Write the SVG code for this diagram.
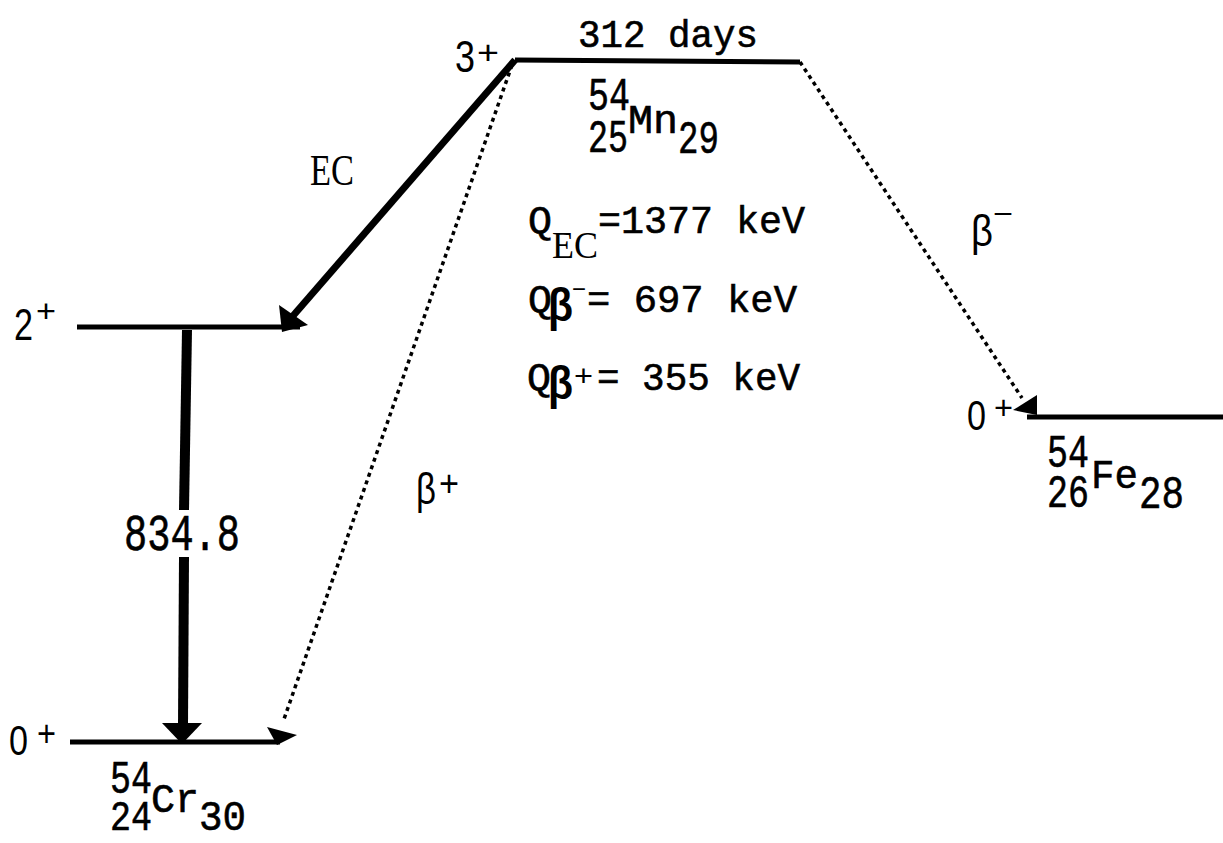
<svg xmlns="http://www.w3.org/2000/svg" width="1223" height="843" viewBox="0 0 1223 843">
<style>
.m{font-family:"Liberation Mono","DejaVu Sans Mono",monospace;fill:#000;stroke:#000;stroke-width:0.6}
.s{font-family:"Liberation Sans",Arial,sans-serif;fill:#000}
.r{font-family:"Liberation Serif","Times New Roman",serif;fill:#000}
.lvl{stroke:#000;stroke-width:5;stroke-linecap:butt;fill:none}
.dot{stroke:#000;stroke-width:3.5;stroke-dasharray:4 4;fill:none}
.solid{stroke:#000;fill:none}
</style>
<rect width="1223" height="843" fill="#fff"/>

<g id="mn54">
<line class="lvl" x1="515" y1="60" x2="800" y2="62"/>
<text class="m" x="578" y="47" font-size="38" textLength="180" lengthAdjust="spacingAndGlyphs">312 days</text>
<text class="s" x="455" y="72" font-size="44" textLength="20" lengthAdjust="spacingAndGlyphs">3</text>
<text class="s" x="477" y="64" font-size="34" textLength="22" lengthAdjust="spacingAndGlyphs">+</text>
<text class="m" x="588" y="110" font-size="47" textLength="42" lengthAdjust="spacingAndGlyphs">54</text>
<text class="m" x="588" y="152" font-size="47" textLength="40" lengthAdjust="spacingAndGlyphs">25</text>
<text class="m" x="628" y="133" font-size="40" textLength="50" lengthAdjust="spacingAndGlyphs">Mn</text>
<text class="m" x="678" y="153" font-size="47" textLength="41" lengthAdjust="spacingAndGlyphs">29</text>
</g>

<g id="qvalues">
<text class="m" x="528" y="233" font-size="38" textLength="24" lengthAdjust="spacingAndGlyphs">Q</text>
<text class="r" x="552" y="258" font-size="38" textLength="46" lengthAdjust="spacingAndGlyphs">EC</text>
<text class="m" x="598" y="233" font-size="38" textLength="207" lengthAdjust="spacingAndGlyphs">=1377 keV</text>
<text class="m" x="528" y="312" font-size="38" textLength="24" lengthAdjust="spacingAndGlyphs">Q</text>
<text class="s" x="548" y="321" font-size="46" font-weight="bold" textLength="25" lengthAdjust="spacingAndGlyphs">β</text>
<text class="s" x="572" y="298" font-size="26" textLength="14" lengthAdjust="spacingAndGlyphs">−</text>
<text class="m" x="587" y="312" font-size="38" textLength="210" lengthAdjust="spacingAndGlyphs">= 697 keV</text>
<text class="m" x="527" y="390" font-size="38" textLength="24" lengthAdjust="spacingAndGlyphs">Q</text>
<text class="s" x="548" y="399" font-size="46" font-weight="bold" textLength="25" lengthAdjust="spacingAndGlyphs">β</text>
<text class="s" x="574" y="386" font-size="30" textLength="19" lengthAdjust="spacingAndGlyphs">+</text>
<text class="m" x="597" y="390" font-size="38" textLength="203" lengthAdjust="spacingAndGlyphs">= 355 keV</text>
</g>

<g id="cr54-2plus">
<line class="lvl" x1="77" y1="327" x2="300" y2="327" stroke-width="6"/>
<text class="s" x="14" y="340" font-size="44" textLength="19" lengthAdjust="spacingAndGlyphs">2</text>
<text class="s" x="36" y="322" font-size="32" textLength="20" lengthAdjust="spacingAndGlyphs">+</text>
</g>

<g id="cr54-ground">
<line class="lvl" x1="70" y1="742" x2="280" y2="742"/>
<text class="s" x="9" y="755" font-size="42" textLength="19" lengthAdjust="spacingAndGlyphs">0</text>
<text class="s" x="37" y="746" font-size="36" textLength="19" lengthAdjust="spacingAndGlyphs">+</text>
<text class="m" x="110" y="793" font-size="47" textLength="42" lengthAdjust="spacingAndGlyphs">54</text>
<text class="m" x="110" y="830" font-size="43" textLength="42" lengthAdjust="spacingAndGlyphs">24</text>
<text class="m" x="151" y="812" font-size="40" textLength="48" lengthAdjust="spacingAndGlyphs">Cr</text>
<text class="m" x="199" y="830" font-size="43" textLength="47" lengthAdjust="spacingAndGlyphs">30</text>
</g>

<g id="fe54">
<line class="lvl" x1="1027" y1="417" x2="1223" y2="417"/>
<text class="s" x="967" y="430" font-size="42" textLength="19" lengthAdjust="spacingAndGlyphs">0</text>
<text class="s" x="994" y="419" font-size="34" textLength="19" lengthAdjust="spacingAndGlyphs">+</text>
<text class="m" x="1047" y="467" font-size="47" textLength="42" lengthAdjust="spacingAndGlyphs">54</text>
<text class="m" x="1047" y="507" font-size="47" textLength="42" lengthAdjust="spacingAndGlyphs">26</text>
<text class="m" x="1091" y="488" font-size="40" textLength="47" lengthAdjust="spacingAndGlyphs">Fe</text>
<text class="m" x="1139" y="508" font-size="47" textLength="45" lengthAdjust="spacingAndGlyphs">28</text>
</g>

<g id="connectors">
<line class="solid" x1="515" y1="60" x2="292" y2="317" stroke-width="7"/>
<polygon points="279,305 308,325 282,332" fill="#000"/>
<line class="dot" x1="512" y1="65" x2="283" y2="722"/>
<polygon points="267,727 297,735 277,745" fill="#000"/>
<line class="dot" x1="800" y1="62" x2="1022" y2="398"/>
<polygon points="1013,410 1037,395 1037,415" fill="#000"/>
<line class="solid" x1="187" y1="330" x2="184" y2="510" stroke-width="10"/>
<line class="solid" x1="184" y1="557" x2="183" y2="725" stroke-width="10"/>
<polygon points="162,723 202,723 182,744" fill="#000"/>
<text class="r" x="310" y="185" font-size="45" textLength="44" lengthAdjust="spacingAndGlyphs">EC</text>
<text class="m" x="124" y="550" font-size="52" textLength="116" lengthAdjust="spacingAndGlyphs">834.8</text>
<text class="s" x="416" y="504" font-size="44" textLength="20" lengthAdjust="spacingAndGlyphs">β</text>
<text class="s" x="439" y="496" font-size="36" textLength="20" lengthAdjust="spacingAndGlyphs">+</text>
<text class="s" x="971" y="246" font-size="44" textLength="22" lengthAdjust="spacingAndGlyphs">β</text>
<text class="s" x="993" y="224" font-size="30" textLength="20" lengthAdjust="spacingAndGlyphs">−</text>
</g>
</svg>
